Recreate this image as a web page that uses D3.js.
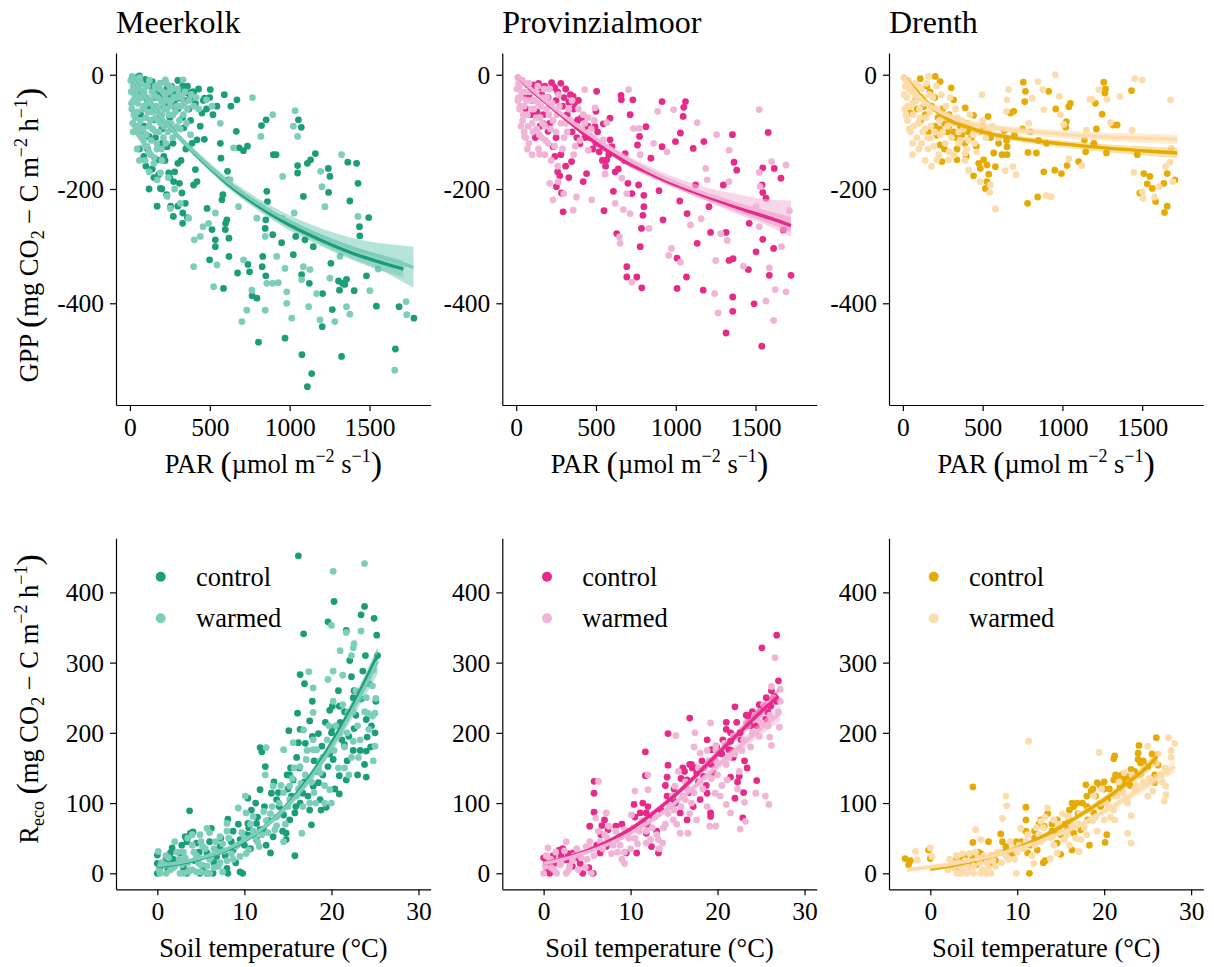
<!DOCTYPE html>
<html><head><meta charset="utf-8">
<script src="https://cdn.jsdelivr.net/npm/d3@7"></script>
<style>
html,body{margin:0;padding:0;background:#fff;}
text{font-family:'Liberation Serif','Times New Roman',Times,serif;fill:#000;}
</style></head>
<body><svg id="chart" width="1214" height="967"></svg>
<script>
// ---------------- DATA ----------------
const sites = ["Meerkolk", "Provinzialmoor", "Drenth"];
const treatments = ["control", "warmed"];
const gppTicks = [0, -200, -400];
const parTicks = [0, 500, 1000, 1500];
const recoTicks = [0, 100, 200, 300, 400];
const tempTicks = [0, 10, 20, 30];
const controlColors = ["#1b9e77", "#e7298a", "#e6ab02"];
const warmedColors = ["#7ccdb9", "#f1b4d7", "#fddcab"];

// GPP vs PAR, [PAR, GPP]
const meerGppControl = [[1778,-426],[1685,-406],[1662,-480],[1543,-405],[1495,-250],[1481,-352],[1437,-266],[1439,-282],[1428,-190],[1419,-155],[1404,-378],[1377,-221],[1364,-153],[1345,-367],[1356,-358],[1306,-361],[1312,-377],[1331,-365],[1325,-493],[1267,-411],[1258,-330],[1244,-206],[1252,-178],[1242,-164],[1204,-441],[1206,-383],[1148,-301],[1138,-523],[1111,-546],[1123,-365],[1111,-155],[1161,-138],[1131,-149],[1096,-289],[1086,-213],[1077,-490],[1073,-92],[1055,-79],[1050,-172],[1050,-159],[1038,-283],[1023,-315],[1075,-350],[971,-461],[950,-294],[952,-252],[915,-140],[898,-140],[894,-280],[857,-204],[861,-222],[851,-254],[847,-269],[851,-352],[824,-89],[853,-79],[828,-336],[832,-318],[805,-468],[795,-391],[765,-387],[749,-345],[739,-332],[711,-133],[736,-125],[684,-128],[674,-347],[670,-44],[666,-99],[632,-55],[617,-184],[611,-169],[620,-286],[620,-318],[607,-254],[599,-260],[597,-271],[591,-35],[586,-374],[576,-219],[582,-210],[570,-146],[566,-120],[545,-55],[535,-301],[535,-289],[514,-271],[503,-26],[499,-324],[483,-234],[468,-41],[466,-113],[451,-67],[420,-114],[420,-187],[410,-166],[399,-193],[389,-120],[378,-41],[362,-32],[347,-225],[326,-207],[337,-93],[331,-242],[316,-41],[274,-187],[272,-248],[264,-47],[243,-172],[233,-126],[212,-143],[191,-199],[171,-149],[150,-79],[119,-108],[87,-143],[67,-70],[108,-44],[150,-20],[46,-15],[212,-55],[274,-55],[30,-5],[60,-2],[95,-8],[140,-12],[180,-30],[230,-25],[250,-35],[290,-30],[300,-60],[330,-75],[200,-95],[160,-110],[120,-60],[90,-90],[40,-40],[25,-25],[270,-120],[300,-155],[230,-210],[255,-230],[320,-150],[350,-130],[380,-80],[440,-90],[400,-30],[140,-165],[180,-175],[110,-130]];
const meerGppControlCluster = [[130,-20],[160,-40],[190,-15],[210,-35],[240,-50],[260,-20],[280,-45],[310,-30],[330,-20],[350,-45],[370,-60],[390,-30],[410,-50],[430,-25],[460,-45],[480,-60],[500,-40],[520,-70],[360,-20],[300,-10],[250,-75],[200,-120],[220,-150],[250,-180],[280,-170],[310,-190],[300,-230],[330,-260],[360,-250],[200,-200],[170,-230],[100,-160],[80,-100],[60,-130],[150,-180],[120,-200],[20,-10],[50,-5],[70,-30],[100,-15]];
const meerGppWarmed = [[1733,-420],[1729,-397],[1658,-517],[1554,-340],[1502,-378],[1428,-248],[1377,-419],[1356,-406],[1325,-140],[1315,-318],[1283,-432],[1252,-356],[1221,-231],[1202,-196],[1194,-169],[1190,-429],[1169,-383],[1127,-341],[1119,-406],[1086,-336],[1075,-359],[1050,-108],[1023,-90],[1034,-63],[1028,-242],[1013,-426],[982,-400],[982,-380],[971,-339],[956,-178],[929,-364],[919,-318],[894,-70],[894,-365],[857,-365],[847,-412],[847,-283],[820,-108],[795,-251],[767,-40],[763,-377],[732,-412],[701,-432],[711,-324],[680,-231],[649,-128],[628,-184],[566,-85],[524,-371],[545,-333],[535,-242],[493,-260],[514,-55],[479,-44],[458,-266],[441,-283],[399,-336],[403,-289],[368,-251],[333,-9],[316,-225],[295,-91],[253,-234],[233,-213],[222,-9],[191,-172],[171,-184],[150,-155],[108,-126],[56,-91],[5,-10],[15,-3],[20,-20],[30,-35],[40,-8],[50,-50],[55,-25],[70,-15],[75,-40],[80,-60],[90,-30],[100,-75],[105,-50],[110,-20],[120,-90],[130,-45],[140,-65],[150,-35],[160,-100],[165,-55],[175,-80],[185,-25],[195,-45],[200,-70],[210,-110],[220,-35],[230,-60],[240,-85],[250,-20],[260,-45],[270,-70],[280,-95],[290,-40],[300,-25],[310,-80],[320,-55],[340,-50],[10,-50],[25,-70],[35,-90],[60,-105],[45,-130],[85,-115],[130,-140],[170,-130],[95,-150],[200,-150],[60,-150],[20,-100],[120,-170],[240,-180],[280,-200]];
const meerGppWarmedCluster = [[8,-30],[12,-60],[18,-85],[22,-45],[28,-15],[33,-75],[38,-100],[42,-25],[48,-65],[52,-90],[58,-40],[62,-5],[66,-80],[72,-110],[78,-30],[82,-95],[88,-55],[92,-125],[98,-20],[102,-105],[108,-40],[112,-65],[118,-135],[122,-10],[128,-80],[132,-115],[138,-30],[142,-95],[148,-55],[152,-145],[158,-20],[162,-75],[168,-120],[172,-40],[178,-60],[182,-100],[188,-15],[192,-85],[198,-130],[204,-50],[208,-30],[214,-90],[218,-60],[224,-120],[228,-15],[234,-45],[238,-100],[244,-70],[248,-30],[254,-55],[258,-85],[264,-25],[268,-110],[275,-40],[285,-65],[295,-55],[305,-35],[315,-95],[325,-40],[335,-70],[345,-30],[360,-60],[370,-45],[385,-35],[400,-55],[415,-40],[430,-60],[380,-105],[355,-85]];

const provGppControl = [[1722,-351],[1674,-272],[1659,-181],[1617,-164],[1613,-304],[1586,-351],[1579,-101],[1565,-216],[1541,-193],[1545,-206],[1545,-288],[1539,-475],[1545,-163],[1503,-310],[1491,-401],[1460,-260],[1455,-341],[1382,-167],[1365,-153],[1355,-105],[1359,-322],[1357,-389],[1357,-414],[1334,-325],[1315,-452],[1315,-276],[1298,-193],[1218,-276],[1208,-231],[1176,-117],[1172,-377],[1134,-295],[1124,-193],[1109,-129],[1071,-243],[1067,-354],[1061,-47],[1050,-57],[1046,-73],[1029,-102],[1025,-221],[1008,-321],[1008,-374],[998,-117],[920,-254],[914,-126],[914,-47],[895,-203],[844,-146],[813,-91],[800,-211],[800,-231],[794,-246],[785,-269],[777,-301],[787,-373],[773,-108],[767,-193],[760,-123],[756,-354],[731,-44],[725,-208],[714,-70],[693,-336],[693,-354],[683,-138],[659,-44],[657,-36],[630,-278],[609,-204],[588,-76],[588,-114],[567,-149],[550,-238],[546,-86],[500,-64],[504,-29],[494,-91],[462,-108],[441,-173],[420,-187],[399,-121],[382,-82],[347,-152],[294,-240],[284,-207],[273,-177],[252,-196],[242,-143],[231,-126],[200,-99],[168,-85],[126,-108],[105,-18],[242,-23],[158,-23],[357,-38],[71,-17],[222,-14],[260,-30],[300,-40],[330,-48],[367,-49],[386,-79],[420,-95],[460,-110],[500,-120],[540,-125],[600,-126],[60,-60],[100,-70],[150,-90],[120,-110],[40,-35],[320,-70],[350,-100],[380,-110],[520,-135],[560,-160],[640,-165],[680,-150],[700,-190]];
const provGppControlCluster = [[120,-25],[140,-15],[160,-35],[180,-20],[200,-40],[230,-20],[250,-45],[280,-15],[290,-55],[310,-25],[340,-35],[360,-60],[390,-45],[410,-75],[430,-110],[450,-90],[480,-130],[510,-100],[540,-150],[580,-140],[620,-170],[100,-45],[80,-35],[130,-65],[170,-70],[210,-85],[250,-110],[280,-140],[310,-160],[260,-170],[330,-180]];
const provGppWarmed = [[1712,-238],[1691,-158],[1691,-380],[1663,-301],[1623,-376],[1600,-152],[1586,-338],[1565,-396],[1613,-430],[1523,-61],[1523,-171],[1529,-196],[1523,-266],[1503,-231],[1424,-335],[1334,-132],[1334,-187],[1323,-290],[1281,-278],[1256,-105],[1250,-325],[1243,-383],[1265,-417],[1197,-184],[1187,-164],[1159,-252],[1134,-84],[1092,-263],[1029,-328],[987,-61],[973,-304],[956,-316],[945,-135],[886,-64],[861,-120],[832,-269],[771,-94],[777,-140],[735,-94],[725,-363],[714,-243],[704,-26],[693,-208],[672,-236],[662,-181],[651,-295],[647,-284],[620,-225],[567,-84],[557,-174],[546,-114],[494,-58],[473,-219],[452,-132],[430,-26],[378,-214],[357,-237],[298,-208],[263,-187],[231,-219],[210,-190],[147,-139],[53,-108],[10,-5],[20,-20],[30,-40],[40,-10],[50,-55],[60,-30],[70,-70],[80,-15],[90,-45],[100,-85],[110,-60],[120,-30],[130,-95],[140,-50],[150,-75],[160,-110],[170,-40],[180,-90],[190,-60],[200,-120],[210,-25],[230,-80],[250,-100],[270,-55],[290,-130],[310,-85],[330,-60],[360,-140],[380,-90],[400,-115],[420,-70],[20,-60],[40,-80],[60,-110],[15,-40],[80,-120]];
const provGppWarmedCluster = [[5,-25],[10,-45],[15,-15],[25,-55],[35,-30],[45,-70],[55,-15],[65,-45],[75,-90],[85,-30],[95,-60],[105,-100],[115,-45],[125,-75],[135,-20],[145,-105],[155,-55],[165,-85],[175,-25],[185,-115],[195,-40],[205,-70],[215,-95],[225,-50],[240,-125],[255,-70],[265,-35],[280,-85],[300,-110],[320,-100],[340,-80],[350,-45],[370,-125],[390,-60],[410,-95],[430,-85],[450,-75],[470,-95],[490,-80],[100,-140],[140,-130],[180,-140],[220,-150],[260,-160],[30,-90],[50,-100],[70,-130]];

const drenGppControl = [[1705,-184],[1657,-173],[1657,-230],[1640,-241],[1636,-190],[1584,-222],[1563,-199],[1548,-178],[1531,-191],[1485,-207],[1510,-173],[1469,-140],[1433,-28],[1343,-88],[1318,-88],[1276,-137],[1270,-25],[1259,-13],[1266,-32],[1249,-69],[1213,-95],[1207,-50],[1197,-120],[1146,-135],[1138,-114],[1102,-152],[1050,-50],[1040,-56],[1029,-159],[1025,-82],[1021,-92],[994,-173],[958,-60],[952,-167],[914,-29],[883,-170],[845,-214],[837,-137],[782,-225],[784,-136],[764,-47],[755,-13],[768,-29],[695,-64],[674,-67],[653,-126],[653,-140],[636,-98],[621,-140],[580,-161],[569,-137],[534,-73],[538,-174],[527,-158],[527,-187],[517,-199],[506,-149],[485,-164],[475,-155],[443,-177],[443,-71],[397,-143],[391,-58],[339,-149],[318,-44],[303,-23],[287,-91],[245,-152],[234,-123],[234,-12],[203,-3],[213,-106],[109,-7],[46,-67],[130,-56],[30,-15],[60,-30],[80,-45],[120,-40],[150,-20],[180,-55],[220,-75],[250,-60],[280,-100],[300,-80],[330,-110],[360,-90],[390,-120],[410,-100],[260,-130],[200,-90]];
const drenGppControlCluster = [[90,-60],[140,-70],[170,-30],[200,-40],[230,-95],[260,-85],[290,-70],[320,-100],[340,-130],[370,-105],[400,-85],[430,-110],[460,-125],[480,-100],[500,-90],[550,-110],[600,-120],[650,-115],[700,-105],[750,-95],[800,-100],[850,-115],[900,-120],[110,-80],[160,-100]];
const drenGppWarmed = [[1692,-187],[1678,-44],[1674,-153],[1682,-129],[1646,-161],[1605,-196],[1577,-214],[1506,-216],[1500,-205],[1500,-9],[1454,-7],[1448,-171],[1437,-97],[1360,-38],[1301,-84],[1280,-43],[1228,-26],[1186,-43],[1172,-43],[1151,-97],[1123,-159],[1040,-147],[1008,-87],[987,-70],[981,-38],[956,0],[929,-214],[898,-211],[883,-61],[877,-26],[847,-12],[810,-41],[789,-85],[709,-175],[690,-161],[663,-26],[653,-44],[649,-64],[642,-168],[580,-235],[548,-193],[544,-206],[538,-99],[496,-35],[485,-187],[464,-135],[412,-167],[391,-137],[349,-120],[287,-149],[234,-105],[213,-149],[161,-3],[98,-85],[5,-5],[15,-20],[25,-40],[35,-10],[45,-55],[55,-30],[65,-70],[75,-15],[85,-45],[95,-85],[105,-60],[115,-25],[125,-100],[135,-50],[145,-75],[155,-110],[165,-35],[175,-90],[185,-60],[195,-125],[210,-20],[230,-80],[250,-100],[270,-55],[290,-135],[310,-85],[330,-60],[360,-115],[380,-95],[400,-130],[420,-70],[440,-105],[20,-70],[40,-95],[60,-120],[30,-55],[100,-130]];
const drenGppWarmedCluster = [[8,-35],[12,-60],[18,-10],[28,-80],[38,-25],[48,-100],[58,-50],[68,-90],[78,-35],[88,-110],[98,-20],[108,-75],[118,-120],[128,-40],[138,-95],[148,-15],[158,-130],[168,-65],[178,-110],[188,-40],[200,-100],[215,-60],[225,-140],[240,-35],[255,-75],[265,-120],[280,-90],[295,-40],[305,-110],[320,-140],[340,-75],[350,-100],[370,-80],[390,-150],[410,-115],[430,-90],[450,-120],[470,-100],[500,-80],[520,-110],[560,-90],[600,-110],[140,-150],[180,-160],[60,-140]];

// Reco vs soil temperature, [T, Reco]
const meerRecoControl = [[16.2,452],[20.3,387],[23.8,380],[23.4,368],[24.9,363],[25.2,339],[16.8,341],[19.6,358],[21.7,346],[23.9,310],[25.3,310],[22.1,303],[16.4,283],[23.6,288],[16.9,270],[22.6,260],[22.5,250],[17.8,245],[23.4,248],[19.8,232],[20.1,238],[20.9,238],[16.1,228],[17.5,217],[24,219],[22.6,206],[20.1,207],[18.5,199],[15.1,203],[24.1,194],[21.5,183],[16.2,186],[22.5,175],[24,174],[11.8,179],[12,173],[23.8,155],[19.6,152],[20.9,139],[24,137],[21.7,133],[20.9,113],[15.2,140],[15.6,133],[18.5,129],[12.4,152],[13.1,114],[10.4,107],[11.8,119],[19.4,94],[17.5,90],[17.7,69],[14.5,83],[14.8,48],[15.8,25],[3.7,89],[10.4,71],[8.1,77],[12.5,40],[13,29],[8.7,60],[9.5,48],[9.8,0],[8.1,0],[8,7],[6.8,24],[6.2,64],[3.8,57],[3.2,52],[3.4,0],[1.5,29],[1.5,14],[0,14],[0,26],[0,0],[4.9,0],[5.7,0],[6.4,0],[2.6,29],[4.5,43],[5.7,29],[7.2,38],[11.4,71],[10.8,90],[13.7,105],[16.4,100],[16.7,114],[17.9,124],[18.7,105],[15.8,86],[15.2,76],[14.8,57],[13.3,52],[12.2,62],[11.4,48],[8.7,33],[18.9,181],[20.2,162],[16.4,205],[1.8,20],[1.2,5],[1.7,36],[3.4,45],[4.1,59],[3.6,3],[5.2,3],[9.5,2],[10.5,65],[11.5,80],[10,40],[10.8,55],[14,95],[15,120],[15.3,150],[16,165],[17,185],[18,160],[19,140],[20,200],[21,215],[21.5,230],[22,195],[23,140],[24.5,180],[25,200]];
const meerRecoControlCluster = [[0.3,8],[1,20],[2.1,15],[2.8,40],[3,8],[4.3,18],[4.8,30],[5.3,10],[6,45],[6.5,15],[7.3,50],[7.8,25],[8.5,45],[9,15],[9.3,70],[10.2,55],[10.7,35],[11.3,100],[11.8,62],[12.3,95],[12.8,75],[13.4,130],[13.9,115],[14.4,60],[14.9,140],[15.4,110],[15.9,95],[16.3,150],[16.9,130],[17.3,110],[17.8,195],[18.3,145],[18.8,90],[19.3,215],[19.8,170],[20.4,120],[20.8,260],[21.2,190],[21.8,160],[22.3,280],[22.8,225],[23.3,175],[24.3,270],[24.6,210],[25.1,245]];
const meerRecoWarmed = [[23.8,441],[20.2,430],[20,353],[23.4,345],[21.7,343],[22.5,321],[22.6,327],[21,317],[22.3,310],[17.4,287],[21.3,282],[20.2,288],[19.6,276],[17.9,264],[25.1,249],[24.7,267],[24.7,224],[25,228],[24.2,228],[20.2,245],[17.9,229],[21.9,229],[16.8,204],[22.5,188],[25,181],[24.8,160],[23.1,165],[21.5,150],[17.9,190],[17.9,176],[15.6,186],[14.5,176],[12.5,179],[12.4,140],[13.3,124],[19.8,119],[20,100],[19.2,100],[10.1,110],[9.3,93],[10.2,86],[13.7,68],[16.6,57],[14.5,45],[5.7,64],[4.9,55],[7.2,52],[8,71],[0.1,31],[0.3,0],[2.6,0],[5.7,0],[11,81],[16.4,152],[15.2,124],[18.7,143],[18.3,176],[17.1,162],[0.5,15],[1,25],[2,10],[2.5,20],[3,30],[3.5,15],[4,5],[4.5,25],[5,12],[5.5,35],[6,20],[6.5,8],[7,30],[7.5,42],[8,18],[8.5,28],[9,38],[9.5,24],[10,50],[10.5,33],[11,60],[11.5,45],[12,55],[12.5,75],[13,85],[13.5,62],[14,100],[14.5,115],[15,95],[15.5,135],[16,110],[16.5,128],[17,140],[17.5,100],[18,115],[18.5,150],[19,165],[19.5,190],[20.5,210],[21,200],[21.5,180],[22,140],[22.5,230],[23,210],[24,250],[1.5,5],[3,0],[4,40],[5,45],[6,0],[3.5,50],[4.5,2],[6.5,35],[7,10]];
const meerRecoWarmedCluster = [[0.2,5],[0.8,12],[1.3,22],[1.8,8],[2.3,30],[2.8,12],[3.2,22],[3.7,5],[4.2,30],[4.7,15],[5.2,38],[5.7,10],[6.2,25],[6.7,45],[7.2,15],[7.7,32],[8.2,50],[8.7,20],[9.2,40],[9.7,58],[10.2,28],[10.7,70],[11.2,52],[11.7,38],[12.2,88],[12.7,58],[13.2,95],[13.7,80],[14.2,125],[14.7,70],[15.2,105],[15.7,150],[16.2,120],[16.7,95],[17.2,175],[17.7,130],[18.2,100],[18.7,160],[19.2,125],[19.7,210],[20.3,175],[20.8,150],[21.3,240],[21.8,200],[22.3,165],[22.8,260],[23.3,190],[23.8,230],[24.3,205],[24.8,290],[2,45],[4,55],[6,58],[8,60],[5,2],[7.5,2],[1,0],[3.5,2]];

const provRecoControl = [[26.8,339],[25.1,321],[27,274],[22,237],[16.8,221],[21,215],[23.5,224],[25.2,238],[25.8,229],[25.5,219],[23.8,210],[14.3,199],[18.8,190],[21.5,188],[11.7,173],[21.3,176],[19.3,176],[14.3,154],[16.8,155],[23.4,150],[24.5,132],[23.1,160],[22.5,138],[21.5,137],[22,107],[22.9,79],[19.2,86],[19.2,81],[11.7,139],[14.2,137],[10.4,98],[5.8,131],[5.8,114],[5.8,87],[5.3,67],[7,76],[6.7,68],[8.3,67],[9.5,57],[8.8,52],[11.1,86],[11.8,86],[11.8,57],[12.4,38],[13.2,29],[14.2,110],[14.9,105],[15.7,86],[16.5,76],[17.2,95],[18,105],[18.8,114],[16.5,133],[17.6,143],[18.4,138],[19.5,143],[20.3,171],[22.6,200],[24.5,210],[26.1,238],[26.5,252],[1.8,33],[2.6,19],[0.3,14],[0.7,0],[4.5,0],[5.7,0],[3.4,29],[6.5,29],[7.2,38],[4.2,14],[9.5,29],[10.7,29],[0,22],[1,10],[2,25],[3,20],[12,95],[13,60],[15,120],[16,150],[17,155],[17.5,150],[21.5,200],[21.8,165],[22.3,130],[23,115],[20.5,170]];
const provRecoControlCluster = [[0.4,5],[1.1,25],[1.6,15],[2.2,35],[2.8,28],[3.3,10],[3.9,22],[5.2,8],[6.1,40],[6.6,55],[7.4,62],[8,45],[9,70],[9.9,60],[10.5,80],[11.4,100],[11.9,70],[12.6,80],[13.5,90],[14,125],[14.6,95],[15.2,100],[15.8,135],[16.2,145],[16.7,115],[17.1,150],[17.8,130],[18.2,160],[18.7,125],[19.3,155],[19.9,180],[20.6,190],[21,205],[21.6,175],[22.2,215],[22.7,190],[23.3,225],[24,230],[24.8,240],[25.6,250],[26.2,260],[26.8,245]];
const provRecoWarmed = [[26.6,307],[26.2,266],[27.2,262],[27.2,245],[27.1,208],[26.2,182],[26,194],[25.9,98],[25.5,110],[24.4,114],[23.1,101],[23.2,74],[22.6,63],[21.5,86],[21,98],[21.1,133],[19.2,214],[19.8,182],[19.8,176],[17.4,200],[15.2,196],[17.3,180],[18,171],[19.1,67],[19.8,67],[19.7,114],[15.5,145],[15.1,124],[12,140],[10.5,117],[12,119],[10.1,83],[6.3,131],[6,79],[7.2,86],[7.5,67],[9.3,62],[8.4,48],[9.3,14],[13.2,48],[11.8,43],[13.7,43],[14.9,76],[15.7,57],[16.6,57],[17.6,76],[18.8,95],[16.3,105],[14.5,95],[0.5,36],[2.6,45],[0,0],[1.5,0],[2.6,0],[4.2,29],[4.9,38],[5.5,0],[0.2,10],[0.8,20],[1.2,5],[2,15],[3,10],[3.5,25],[4,5],[5,20],[5.5,35],[6.5,45],[7,55],[8,40],[8.5,30],[9,20],[10,35],[10.5,50],[11,60],[12.5,65],[13,55],[14,70],[15,90],[16,110],[16.5,120],[17,100],[18,130],[18.5,150],[19,160],[20,140],[21,155],[22,170],[23,190],[24,200],[25,215],[26,225],[24.8,230],[20.5,125],[22.5,145],[23.5,210]];
const provRecoWarmedCluster = [[0.3,25],[0.9,8],[1.4,30],[1.9,12],[2.4,32],[2.9,5],[3.3,18],[3.8,35],[4.3,22],[4.8,8],[5.3,45],[5.8,25],[6.3,60],[6.8,35],[7.3,50],[7.8,28],[8.3,60],[8.8,40],[9.3,30],[9.8,50],[10.3,65],[10.8,42],[11.3,75],[11.8,60],[12.3,48],[12.8,80],[13.3,35],[13.8,65],[14.3,85],[14.8,110],[15.3,70],[15.8,95],[16.3,130],[16.8,85],[17.3,115],[17.8,150],[18.3,120],[18.8,175],[19.3,135],[19.8,160],[20.3,110],[20.8,185],[21.3,165],[21.8,195],[22.3,120],[22.8,175],[23.3,215],[23.8,180],[24.3,225],[24.8,195],[25.3,240],[25.8,210],[26.4,250],[27,230]];

const drenRecoControl = [[26,193],[26.2,154],[24,182],[23.9,171],[25.8,140],[25.8,129],[23.9,162],[21.2,167],[21.1,163],[19.2,129],[18.5,117],[17.9,126],[21.5,133],[22,129],[21.1,133],[20.3,55],[20.1,44],[18.3,40],[16.9,100],[16.5,95],[16.3,33],[15,27],[13.2,18],[13,15],[11,94],[11,76],[11.4,0],[11,60],[9.9,45],[8.7,38],[8.1,56],[8.3,45],[6.7,45],[4.9,123],[4.9,44],[-0.2,33],[0,21],[-2.3,18],[-2.9,21],[-2.5,12],[13.1,67],[13.8,52],[14.6,43],[15.8,62],[16.5,57],[17.3,62],[18.1,76],[18.8,86],[19.6,95],[20.4,105],[22.7,138],[23.1,148],[24.2,157],[25,152],[2.3,10],[3.5,14],[4.6,10],[5.8,19],[6.9,14],[11.2,29],[12.3,33],[12.7,76],[14.6,76],[3,20],[4,25],[5.5,30],[7,25],[9,30],[10,40],[12,50],[14,60],[15,55],[16,75],[17,85],[18,95],[19,110],[20,120],[22,140],[23,125]];
const drenRecoControlCluster = [[3.2,5],[3.8,20],[4.3,15],[4.8,25],[5.3,12],[5.8,28],[6.3,20],[7.5,18],[8.5,30],[9.5,28],[10.5,45],[11.5,40],[12,60],[12.5,70],[13.5,85],[14,70],[14.5,60],[15.5,70],[16,90],[16.3,100],[17.5,100],[18,110],[18.7,120],[19.5,125],[20,130],[20.6,120],[21.3,140],[21.8,125],[22.3,135],[23.5,145],[24.5,160],[25.5,170]];
const drenRecoWarmed = [[11.3,188],[19.4,172],[27.4,193],[28.1,185],[27.7,165],[27.1,124],[27.1,112],[26.9,103],[25,181],[26,157],[25.6,117],[25,110],[23.1,82],[23.1,43],[22.7,57],[22.3,143],[21.1,90],[21.2,76],[18.8,110],[20,76],[8.7,110],[8.8,96],[8.3,78],[5.2,62],[5.8,48],[9.9,0],[10.4,64],[12.7,74],[13.5,93],[14.2,76],[15.8,81],[16.5,67],[17.1,31],[17.3,48],[15.4,48],[14.6,29],[13.8,21],[11.9,14],[0,36],[0.2,24],[-1.7,31],[-1.5,19],[3.1,0],[4.2,0],[5.8,0],[6.5,0],[2,5],[2.5,15],[3,25],[3.5,8],[4,18],[4.5,28],[5,10],[5.5,22],[6,5],[6.5,15],[7,25],[7.5,10],[8,30],[9,20],[9.5,35],[10,30],[11,45],[12,40],[12.5,55],[13,65],[14,50],[15,60],[16,40],[17,70],[18,55],[19,80],[19.5,100],[20.5,95],[21.5,110],[22.5,105],[23.5,120],[24.5,130],[26.5,140],[27,150],[4,2],[5,0],[3.5,0],[7,0]];
const drenRecoWarmedCluster = [[2.2,20],[2.7,8],[3.2,15],[3.7,28],[4.2,12],[4.7,5],[5.2,30],[5.7,15],[6.2,25],[6.7,8],[7.2,18],[7.7,30],[8.2,15],[8.7,25],[9.2,45],[9.7,20],[10.2,40],[10.7,35],[11.2,55],[11.7,25],[12.2,65],[12.7,45],[13.2,80],[13.7,55],[14.2,40],[14.7,70],[15.2,85],[15.7,55],[16.2,70],[16.7,50],[17.2,85],[17.7,65],[18.2,90],[18.7,75],[19.2,60],[19.7,120],[20.2,100],[20.7,80],[21.2,110],[21.7,130],[22.2,115],[22.7,100],[23.2,140],[23.7,125],[24.2,140],[24.7,150],[25.2,135],[25.7,160],[26.2,170],[26.7,130],[27.2,145],[27.7,175]];

// Fitted curves: x positions, fitted values, half-width of confidence band
const meerGppFitX = [5,100,200,300,400,500,600,700,800,900,1000,1200,1400,1600,1712];
const meerGppFitControl = [-2,-40,-76,-107,-136,-163,-188,-210,-229,-247,-263,-290,-313,-331,-340];
const meerGppBandControl = [2,3,4,5,6,6,7,7,8,8,9,10,12,14,15];
const meerGppFitXW = [5,100,200,300,400,500,600,700,800,900,1000,1200,1400,1600,1775];
const meerGppFitWarmed = [-2,-40,-76,-107,-135,-161,-185,-206,-225,-242,-257,-283,-304,-321,-337];
const meerGppBandWarmed = [3,4,5,5,6,7,7,8,9,10,11,14,18,25,36];

const provGppFitX = [5,100,200,300,400,500,600,700,800,900,1000,1200,1400,1600,1722];
const provGppFitControl = [-1,-28,-52,-75,-98,-120,-138,-155,-168,-181,-193,-214,-234,-252,-264];
const provGppBandControl = [2,3,3,4,4,5,5,5,6,6,6,7,8,10,12];
const provGppFitWarmed = [-1,-26,-50,-72,-93,-112,-131,-148,-163,-177,-189,-210,-228,-243,-252];
const provGppBandWarmed = [2,3,4,4,5,5,6,6,7,8,9,12,18,24,32];

const drenGppFitX = [5,50,100,150,224,308,410,500,700,1000,1300,1500,1720];
const drenGppFitControl = [-2,-17,-33,-48,-67,-82,-92,-100,-111,-121,-129,-133,-137];
const drenGppBandControl = [2,3,4,5,5,5,5,5,5,6,7,8,9];
const drenGppFitXW = [5,50,100,200,300,400,500,700,1000,1300,1500,1720];
const drenGppFitWarmed = [-2,-20,-37,-60,-74,-84,-90,-97,-104,-109,-111,-113];
const drenGppBandWarmed = [3,4,5,6,6,6,6,6,7,7,8,8];

const meerRecoFitX = [0,2.5,5,7.5,10,12.5,15,17.5,20,22.5,25.3];
const meerRecoFitControl = [10,14,21,31,46,68,98,137,185,240,310];
const meerRecoBandControl = [3,3,3,3,3,4,5,6,7,9,12];
const meerRecoFitWarmed = [11,15,22,32,47,68,97,134,180,234,302];
const meerRecoBandWarmed = [3,3,3,3,3,4,5,6,8,11,18];

const provRecoFitX = [0,2.5,5,7.5,10,12.5,15,17.5,20,22.5,25,27];
const provRecoFitControl = [14,22,32,46,63,85,110,139,170,200,230,252];
const provRecoBandControl = [3,3,3,3,3,4,4,5,6,7,9,10];
const provRecoFitXW = [0,2.5,5,7.5,10,12.5,15,17.5,20,22.5,25,27.2];
const provRecoFitWarmed = [14,21,30,42,57,76,99,125,153,180,206,228];
const provRecoBandWarmed = [3,3,3,3,3,4,4,5,6,7,9,11];

const drenRecoFitX = [0,2.5,5,7.5,10,12.5,15,17.5,20,22.5,25,26.1];
const drenRecoFitControl = [6,11,18,26,36,50,66,85,105,127,152,166];
const drenRecoBandControl = [3,3,3,3,3,3,4,4,5,6,8,9];
const drenRecoFitXW = [-2.7,0,2.5,5,7.5,10,12.5,15,17.5,20,22.5,25,28.1];
const drenRecoFitWarmed = [5,9,13,19,26,35,45,57,71,88,107,127,152];
const drenRecoBandWarmed = [3,3,3,3,3,3,3,4,4,5,6,7,9];

// ---------------- LAYOUT ----------------
const svg = d3.select("#chart");
const cols = [{x0:116, x1:430.7},{x0:502.3, x1:816.7},{x0:889, x1:1203.3}];
const rowsL = [{y0:53, y1:405},{y0:538.3, y1:889.3}];
const FONT = "'Liberation Serif','Times New Roman',Times,serif";

const panels = [
  {row:0,col:0, pts:[meerGppControl.concat(meerGppControlCluster), meerGppWarmed.concat(meerGppWarmedCluster)],
   fits:[{x:meerGppFitX,y:meerGppFitControl,b:meerGppBandControl},{x:meerGppFitXW,y:meerGppFitWarmed,b:meerGppBandWarmed}]},
  {row:0,col:1, pts:[provGppControl.concat(provGppControlCluster), provGppWarmed.concat(provGppWarmedCluster)],
   fits:[{x:provGppFitX,y:provGppFitControl,b:provGppBandControl},{x:provGppFitX,y:provGppFitWarmed,b:provGppBandWarmed}]},
  {row:0,col:2, pts:[drenGppControl.concat(drenGppControlCluster), drenGppWarmed.concat(drenGppWarmedCluster)],
   fits:[{x:drenGppFitX,y:drenGppFitControl,b:drenGppBandControl},{x:drenGppFitXW,y:drenGppFitWarmed,b:drenGppBandWarmed}]},
  {row:1,col:0, pts:[meerRecoControl.concat(meerRecoControlCluster), meerRecoWarmed.concat(meerRecoWarmedCluster)],
   fits:[{x:meerRecoFitX,y:meerRecoFitControl,b:meerRecoBandControl},{x:meerRecoFitX,y:meerRecoFitWarmed,b:meerRecoBandWarmed}]},
  {row:1,col:1, pts:[provRecoControl.concat(provRecoControlCluster), provRecoWarmed.concat(provRecoWarmedCluster)],
   fits:[{x:provRecoFitX,y:provRecoFitControl,b:provRecoBandControl},{x:provRecoFitXW,y:provRecoFitWarmed,b:provRecoBandWarmed}]},
  {row:1,col:2, pts:[drenRecoControl.concat(drenRecoControlCluster), drenRecoWarmed.concat(drenRecoWarmedCluster)],
   fits:[{x:drenRecoFitX,y:drenRecoFitControl,b:drenRecoBandControl},{x:drenRecoFitXW,y:drenRecoFitWarmed,b:drenRecoBandWarmed}]}
];

function richText(parent, x, y, segs, anchor) {
  const t = parent.append("text").attr("x", x).attr("y", y)
    .attr("text-anchor", anchor || "middle").style("font-family", FONT);
  let cur = 0;
  segs.forEach(s => {
    const sh = s.sh || 0;
    t.append("tspan").attr("dy", sh - cur).attr("font-size", s.fs).text(s.t);
    cur = sh;
  });
  return t;
}

const FS = 26.5, SS = 18, PS = 34;

panels.forEach(p => {
  const c = cols[p.col], r = rowsL[p.row];
  const x = p.row === 0 ? d3.scaleLinear().domain([-87, 1883]).range([c.x0, c.x1])
                        : d3.scaleLinear().domain([-4.75, 31.4]).range([c.x0, c.x1]);
  const y = p.row === 0 ? d3.scaleLinear().domain([-578, 38]).range([r.y1, r.y0])
                        : d3.scaleLinear().domain([-22.8, 477]).range([r.y1, r.y0]);
  const g = svg.append("g");
  const colors = [controlColors[p.col], warmedColors[p.col]];

  p.pts.forEach((arr, i) => {
    g.append("g").selectAll("circle").data(arr).join("circle")
      .attr("cx", d => x(d[0])).attr("cy", d => y(d[1])).attr("r", 3.4)
      .attr("fill", colors[i]);
  });
  p.fits.forEach((f, i) => {
    const rows = f.x.map((xv, k) => ({x: xv, y: f.y[k], lo: f.y[k] - f.b[k], hi: f.y[k] + f.b[k]}));
    g.append("path").datum(rows)
      .attr("d", d3.area().curve(d3.curveMonotoneX).x(d => x(d.x)).y0(d => y(d.lo)).y1(d => y(d.hi)))
      .attr("fill", colors[i]).attr("fill-opacity", i === 0 ? 0.35 : 0.55);
  });
  p.fits.forEach((f, i) => {
    const rows = f.x.map((xv, k) => ({x: xv, y: f.y[k]}));
    g.append("path").datum(rows)
      .attr("d", d3.line().curve(d3.curveMonotoneX).x(d => x(d.x)).y(d => y(d.y)))
      .attr("fill", "none").attr("stroke", colors[i]).attr("stroke-width", 3.4);
  });

  const ax = g.append("g").attr("transform", `translate(0,${r.y1})`)
    .call(d3.axisBottom(x).tickValues(p.row === 0 ? parTicks : tempTicks)
      .tickSize(6).tickSizeOuter(0).tickPadding(7).tickFormat(d => String(d)));
  const ay = g.append("g").attr("transform", `translate(${c.x0},0)`)
    .call(d3.axisLeft(y).tickValues(p.row === 0 ? gppTicks : recoTicks)
      .tickSize(6).tickSizeOuter(0).tickPadding(6).tickFormat(d => String(d)));
  [ax, ay].forEach(a => {
    a.attr("font-family", null);
    a.select(".domain").attr("stroke", "#000").attr("stroke-width", 1.2);
    a.selectAll(".tick line").attr("stroke", "#000").attr("stroke-width", 1.2);
    a.selectAll(".tick text").style("font-family", FONT).attr("font-size", 25.5).attr("fill", "#000");
  });
  ax.selectAll(".tick text").attr("dy", null).attr("y", 31);
  ay.selectAll(".tick text").attr("dy", "0.33em");

  const cx = (c.x0 + c.x1) / 2;
  if (p.row === 0) {
    svg.append("text").attr("x", c.x0).attr("y", 33).attr("font-size", 32)
      .style("font-family", FONT).text(sites[p.col]);
    richText(svg, cx, r.y1 + 68, [
      {t:"PAR ", fs:FS}, {t:"(", fs:PS, sh:2}, {t:"µmol m", fs:FS}, {t:"−2", fs:SS, sh:-11},
      {t:" s", fs:FS}, {t:"−1", fs:SS, sh:-11}, {t:")", fs:PS, sh:2}]);
  } else {
    richText(svg, cx, r.y1 + 67.4, [{t:"Soil temperature (°C)", fs:FS}]);
    treatments.forEach((tname, i) => {
      const ly = [576.7, 618.3][i];
      svg.append("circle").attr("cx", c.x0 + 44.7).attr("cy", ly).attr("r", 5).attr("fill", colors[i]);
      svg.append("text").attr("x", c.x0 + 80).attr("y", ly + 8.8).attr("font-size", FS)
        .style("font-family", FONT).text(tname);
    });
  }
});

const yt1 = svg.append("g").attr("transform", "translate(38,235) rotate(-90)");
richText(yt1, 0, 0, [
  {t:"GPP ", fs:FS}, {t:"(", fs:PS, sh:2}, {t:"mg CO", fs:FS}, {t:"2", fs:SS, sh:6},
  {t:" − C m", fs:FS}, {t:"−2", fs:SS, sh:-11}, {t:" h", fs:FS}, {t:"−1", fs:SS, sh:-11}, {t:")", fs:PS, sh:2}]);
const yt2 = svg.append("g").attr("transform", "translate(38,699) rotate(-90)");
richText(yt2, 0, 0, [
  {t:"R", fs:FS}, {t:"eco", fs:SS, sh:6}, {t:" ", fs:FS}, {t:"(", fs:PS, sh:2}, {t:"mg CO", fs:FS}, {t:"2", fs:SS, sh:6},
  {t:" − C m", fs:FS}, {t:"−2", fs:SS, sh:-11}, {t:" h", fs:FS}, {t:"−1", fs:SS, sh:-11}, {t:")", fs:PS, sh:2}]);
</script></body></html>
